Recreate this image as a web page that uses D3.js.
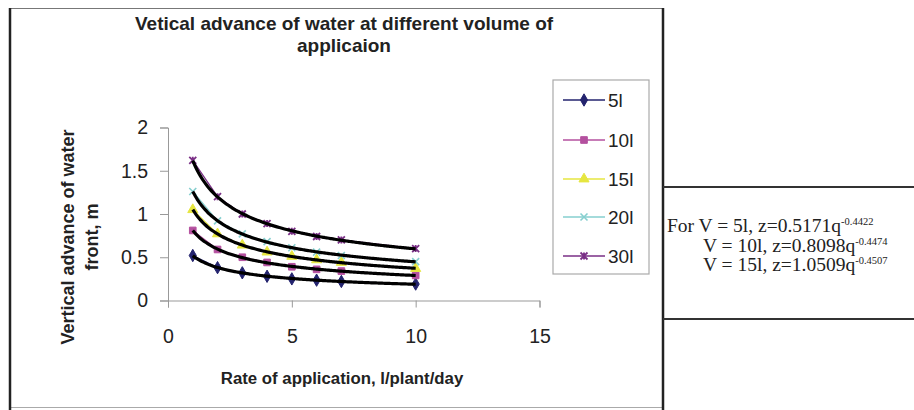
<!DOCTYPE html>
<html>
<head>
<meta charset="utf-8">
<script src="https://cdn.jsdelivr.net/npm/d3@7"></script>
<style>
  html, body { margin: 0; padding: 0; background: #fff; }
  svg { display: block; }
</style>
</head>
<body>
<svg id="chart" width="914" height="410"></svg>
<script>
// ---- data ----
const rates = [1, 2, 3, 4, 5, 6, 7, 10];
const seriesNames = ["5l", "10l", "15l", "20l", "30l"];
const v5  = [0.52, 0.38, 0.32, 0.28, 0.25, 0.235, 0.22, 0.19];
const v10 = [0.81, 0.59, 0.50, 0.44, 0.39, 0.36, 0.34, 0.29];
const v15 = [1.05, 0.77, 0.64, 0.56, 0.51, 0.47, 0.44, 0.37];
const v20 = [1.26, 0.92, 0.77, 0.68, 0.61, 0.56, 0.52, 0.45];
const v30 = [1.62, 1.20, 1.00, 0.89, 0.80, 0.74, 0.70, 0.60];
const xTicks = [0, 5, 10, 15];
const yTicks = [0, 0.5, 1, 1.5, 2];
const titleLines = ["Vetical advance of water at different volume of", "applicaion"];
const xTitle = "Rate of application, l/plant/day";
const yTitleLines = ["Vertical advance of water", "front, m"];
const eqLines = [
  {pre: "For V = 5l, z=0.5171q", exp: "-0.4422"},
  {pre: "V = 10l, z=0.8098q", exp: "-0.4474"},
  {pre: "V = 15l, z=1.0509q", exp: "-0.4507"}
];

const seriesValues = [v5, v10, v15, v20, v30];
const colors = ["#23236e", "#b4509f", "#e6e640", "#86cfcf", "#7a2f86"];
const shapes = [d3.symbolDiamond, d3.symbolSquare, d3.symbolTriangle, "x", "star"];

const svg = d3.select("#chart");

// frame
svg.append("line").attr("x1", 10).attr("x2", 663).attr("y1", 8.5).attr("y2", 8.5).attr("stroke", "#777").attr("stroke-width", 1);
svg.append("line").attr("x1", 10).attr("x2", 663).attr("y1", 407.5).attr("y2", 407.5).attr("stroke", "#aaa").attr("stroke-width", 1);
svg.append("line").attr("x1", 10).attr("x2", 10).attr("y1", 8).attr("y2", 410).attr("stroke", "#222").attr("stroke-width", 2.5);
svg.append("line").attr("x1", 663).attr("x2", 663).attr("y1", 8).attr("y2", 410).attr("stroke", "#222").attr("stroke-width", 2.5);
svg.append("line").attr("x1", 663).attr("x2", 914).attr("y1", 187).attr("y2", 187).attr("stroke", "#333").attr("stroke-width", 2);
svg.append("line").attr("x1", 663).attr("x2", 914).attr("y1", 319).attr("y2", 319).attr("stroke", "#333").attr("stroke-width", 2);

// scales
const x = d3.scaleLinear().domain([0, 15]).range([168, 539.5]);
const y = d3.scaleLinear().domain([0, 2]).range([300.5, 127.5]);

// title
svg.append("g").selectAll("text").data(titleLines).join("text")
  .attr("x", 344).attr("y", (d, i) => 30 + i * 22)
  .attr("text-anchor", "middle")
  .attr("font-family", "Liberation Sans, Arial, sans-serif")
  .attr("font-weight", "bold").attr("font-size", 19)
  .attr("fill", "#222").text(d => d);

// axes
const xAxis = svg.append("g").attr("transform", `translate(0,${y(0)})`)
  .call(d3.axisBottom(x).tickValues(xTicks).tickSize(7).tickPadding(22).tickFormat(d3.format("d")));
const yAxis = svg.append("g").attr("transform", `translate(${x(0)},0)`)
  .call(d3.axisLeft(y).tickValues(yTicks).tickSize(8).tickPadding(12).tickFormat(d => String(d)));
[xAxis, yAxis].forEach(g => {
  g.select(".domain").attr("stroke", "#999");
  g.selectAll(".tick line").attr("stroke", "#999");
  g.selectAll(".tick text").attr("font-family", "Liberation Sans, Arial, sans-serif")
    .attr("font-size", 19.5).attr("fill", "#222");
});

// axis titles
svg.append("text").attr("x", 342).attr("y", 384).attr("text-anchor", "middle")
  .attr("font-family", "Liberation Sans, Arial, sans-serif").attr("font-weight", "bold")
  .attr("font-size", 16.8).attr("fill", "#222").text(xTitle);
svg.append("g").selectAll("text").data(yTitleLines).join("text")
  .attr("transform", (d, i) => `translate(${74 + i * 24},237) rotate(-90)`)
  .attr("text-anchor", "middle")
  .attr("font-family", "Liberation Sans, Arial, sans-serif").attr("font-weight", "bold")
  .attr("font-size", 18).attr("fill", "#222").text(d => d);

// marker helper
function drawMarker(g, i, size) {
  const s = shapes[i];
  if (s === "x") {
    const r = size * 0.5;
    g.append("path").attr("d", `M${-r},${-r}L${r},${r}M${-r},${r}L${r},${-r}`)
      .attr("stroke", colors[i]).attr("stroke-width", 1.6).attr("fill", "none");
  } else if (s === "star") {
    const r = size * 0.5;
    g.append("path").attr("d", `M${-r},${-r}L${r},${r}M${-r},${r}L${r},${-r}M0,${-r}L0,${r}`)
      .attr("stroke", colors[i]).attr("stroke-width", 1.8).attr("fill", "none");
  } else {
    g.append("path").attr("d", d3.symbol().type(s).size(size * size * 0.9)())
      .attr("fill", colors[i]).attr("stroke", colors[i]);
  }
}

const data = seriesNames.map((name, i) => ({name, i, pts: rates.map((q, j) => ({q, v: seriesValues[i][j]}))}));

// series lines (thin)
const line = d3.line().x(d => x(d.q)).y(d => y(d.v));
svg.append("g").selectAll("path").data(data).join("path")
  .attr("d", d => line(d.pts)).attr("fill", "none")
  .attr("stroke", d => colors[d.i]).attr("stroke-width", 1.2);

// markers (under the trend lines, peeking out)
data.forEach(d => {
  const g = svg.append("g");
  d.pts.forEach(p => {
    const m = g.append("g").attr("transform", `translate(${x(p.q)},${y(p.v)})`);
    drawMarker(m, d.i, 7);
  });
});

// power trend lines fitted from the data (log-log least squares)
function powerFit(pts) {
  const lx = pts.map(p => Math.log(p.q)), ly = pts.map(p => Math.log(p.v));
  const mx = d3.mean(lx), my = d3.mean(ly);
  const b = d3.sum(lx.map((v, k) => (v - mx) * (ly[k] - my))) / d3.sum(lx.map(v => (v - mx) ** 2));
  const a = Math.exp(my - b * mx);
  return {a, b};
}
const qDomain = d3.extent(rates);
const trend = d3.line().x(d => x(d[0])).y(d => y(d[1])).curve(d3.curveBasis);
svg.append("g").selectAll("path").data(data).join("path")
  .attr("d", d => {
    const f = powerFit(d.pts);
    const samples = d3.range(qDomain[0], qDomain[1] + 0.001, 0.1).map(q => [q, f.a * Math.pow(q, f.b)]);
    return trend(samples);
  })
  .attr("fill", "none").attr("stroke", "#000").attr("stroke-width", 3.2);

// legend
const legend = svg.append("g");
legend.append("rect").attr("x", 553).attr("y", 80).attr("width", 96).attr("height", 194)
  .attr("fill", "#fff").attr("stroke", "#aaa").attr("stroke-width", 1.2);
const ly = [100, 140, 179, 217, 256];
data.forEach(d => {
  const g = legend.append("g").attr("transform", `translate(0,${ly[d.i]})`);
  g.append("line").attr("x1", 563).attr("x2", 605).attr("stroke", colors[d.i]).attr("stroke-width", 1.5);
  const m = g.append("g").attr("transform", "translate(584,0)");
  drawMarker(m, d.i, 7);
  g.append("text").attr("x", 608).attr("y", 0).attr("dy", "0.36em")
    .attr("font-family", "Liberation Sans, Arial, sans-serif").attr("font-size", 19)
    .attr("fill", "#222").text(d.name);
});

// equations box text
const eq = svg.append("g").attr("font-family", "Liberation Serif, Times New Roman, serif").attr("fill", "#222");
eqLines.forEach((e, i) => {
  const t = eq.append("text").attr("x", i === 0 ? 667 : 703).attr("y", 232 + i * 19.5).attr("font-size", 19.5);
  t.append("tspan").text(e.pre);
  t.append("tspan").attr("font-size", 10.5).attr("dy", -7).text(e.exp);
});
</script>
</body>
</html>
